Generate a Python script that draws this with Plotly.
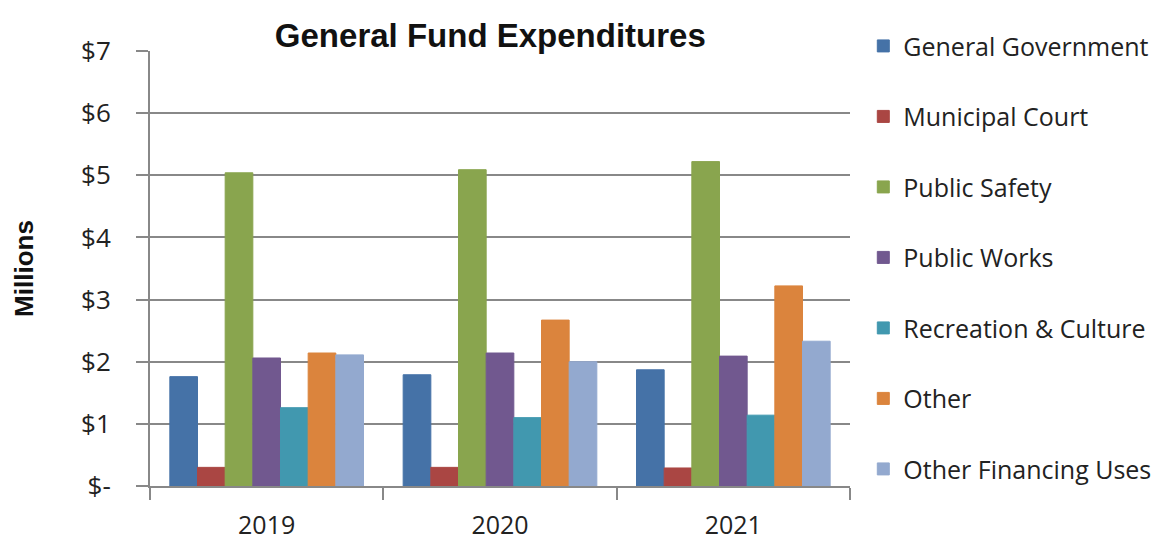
import plotly.graph_objects as go

years = ['2019', '2020', '2021']
series_names = ['General Government', 'Municipal Court', 'Public Safety', 'Public Works',
                'Recreation & Culture', 'Other', 'Other Financing Uses']
general_government = [1.76, 1.79, 1.87]
municipal_court = [0.30, 0.30, 0.29]
public_safety = [5.04, 5.09, 5.22]
public_works = [2.06, 2.14, 2.09]
recreation_culture = [1.26, 1.10, 1.14]
other = [2.14, 2.67, 3.22]
other_financing = [2.11, 2.00, 2.33]
y_tick_vals = [0, 1, 2, 3, 4, 5, 6, 7]
y_tick_text = ['$-', '$1', '$2', '$3', '$4', '$5', '$6', '$7']

colors = ['#4572A7', '#AA4643', '#89A54E', '#71588F', '#4198AF', '#DB843D', '#93A9CF']
values = [general_government, municipal_court, public_safety, public_works,
          recreation_culture, other, other_financing]

fig = go.Figure()
for name, vals, col in zip(series_names, values, colors):
    fig.add_trace(go.Bar(
        x=years, y=vals, name=name, legendgroup=name,
        marker=dict(color=col, line=dict(color=col, width=1)),
    ))

# note: the page body has an 8px default margin, so margins are shifted by 8
fig.update_layout(
    width=1165, height=544,
    paper_bgcolor='white', plot_bgcolor='white',
    font=dict(family='Open Sans, sans-serif', color='#222'),
    title=dict(text='<b>General Fund Expenditures</b>', x=0.414, xanchor='center',
               y=0.95, yanchor='middle',
               font=dict(family='Arial, sans-serif', size=33, color='#111')),
    barmode='group', bargap=0.17, bargroupgap=0,
    margin=dict(l=142, r=323, t=43, b=66, autoexpand=False),
    legend=dict(x=1.019, y=1.064, xanchor='left', yanchor='top',
                font=dict(size=25, color='#222'), tracegroupgap=35,
                itemwidth=30, maxheight=540),
    xaxis=dict(showline=True, linecolor='#888', linewidth=2, ticks='outside',
               tickson='boundaries', ticklen=12, tickcolor='#888', tickwidth=2,
               tickfont=dict(size=25, color='#222'), showgrid=False,
               ticklabelstandoff=16),
    yaxis=dict(range=[0, 7], tickvals=y_tick_vals, ticktext=y_tick_text,
               showline=True, linecolor='#888', linewidth=2, ticks='outside',
               ticklen=12, tickcolor='#888', tickwidth=2,
               showgrid=True, gridcolor='#888', gridwidth=2, zeroline=False,
               tickfont=dict(size=26, color='#222'), ticklabelstandoff=20,
               title=dict(text='<b>Millions</b>', font=dict(family='Arial, sans-serif', size=26, color='#111'),
                          standoff=40)),
)

fig.write_html('out.html')
